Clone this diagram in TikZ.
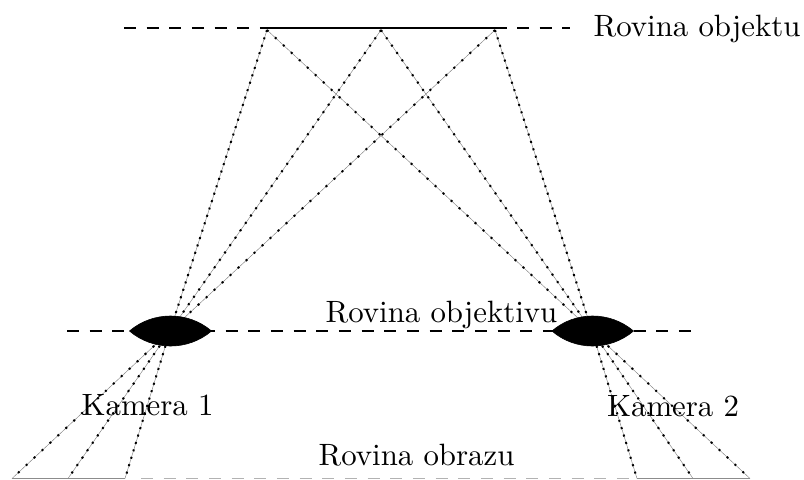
\documentclass[tikz,border=0pt]{standalone}
\tikzset{
  plane/.style={line width=0.42pt,dash pattern=on 3.9pt off 3.45pt},
  planesolid/.style={line width=0.42pt},
  lowplane/.style={line width=0.42pt,black!30,dash pattern=on 3.9pt off 3.45pt},
  lowsolid/.style={line width=0.42pt,black!45},
  rayline/.style={line width=0.14pt,black!50},
  lbl/.style={inner sep=0pt,anchor=base west},
  lensfill/.style={fill=black,draw=black,line width=0.2pt}
}
% a ray whose dots keep a fixed vertical spacing
\newcommand{\dotray}[2]{%
  \path (#1); \pgfgetlastxy{\rayax}{\rayay}%
  \path (#2); \pgfgetlastxy{\raybx}{\rayby}%
  \pgfmathsetmacro{\rayper}{2.4*veclen(\raybx-\rayax,\rayby-\rayay)/abs(\rayby-\rayay)-0.65}%
  \draw[rayline] (#1) -- (#2);
  \draw[line width=0.65pt,dash pattern=on 0.65pt off \rayper pt] (#1) -- (#2);
}
\begin{document}
\begin{tikzpicture}[x=0.3243pt,y=-0.3243pt]
\useasboundingbox (0,0) rectangle (804,479);
% coordinates
\coordinate (tl) at (124,28);
\coordinate (t1) at (267,30);
\coordinate (t2) at (381,30);
\coordinate (t3) at (495,30);
\coordinate (ts1) at (260,28);
\coordinate (ts2) at (507,28);
\coordinate (tq) at (517,28);
\coordinate (tr) at (570,28);
\coordinate (c1) at (170,331);
\coordinate (c2) at (592,331);
\coordinate (b1) at (12,478.5);
\coordinate (b2) at (68,478.5);
\coordinate (b3) at (125,478.5);
\coordinate (b3d) at (141,478.5);
\coordinate (b3e) at (629,478.5);
\coordinate (b4) at (637,478.5);
\coordinate (b5) at (693,478.5);
\coordinate (b6) at (750,478.5);
\coordinate (ml) at (67,331);
\coordinate (mr) at (692,331);
\coordinate (l1a) at (129.5,331);
\coordinate (l1b) at (211.5,331);
\coordinate (l2a) at (552,331);
\coordinate (l2b) at (633.5,331);
% rays
\foreach \a in {t1,t2,t3}{
  \dotray{\a}{c1}
  \dotray{\a}{c2}
}
\foreach \a in {b1,b2,b3}{ \dotray{c1}{\a} }
\foreach \a in {b4,b5,b6}{ \dotray{c2}{\a} }
% planes
\draw[plane] (tl) -- (ts1);
\draw[planesolid,line width=0.55pt] (ts1) -- (ts2);
\draw[plane] (tq) -- (tr);
\draw[plane] (ml) -- (mr);
\draw[lowsolid] (b1) -- (b3);
\draw[lowplane] (b3d) -- (b3e);
\draw[lowsolid] (b4) -- (b6);
% lenses
\draw[lensfill] (l1a) .. controls (153,311) and (188,311) .. (l1b) .. controls (188,351) and (153,351) .. cycle;
\draw[lensfill] (l2a) .. controls (575,311) and (610,311) .. (l2b) .. controls (610,351) and (575,351) .. cycle;
% labels
\node[lbl] (lo) at (593,36) {Rovina objektu};
\node[lbl] (lv) at (325,322) {Rovina objektivu};
\node[lbl] (k1) at (81,415.5) {Kamera 1};
\node[lbl] (k2) at (606.5,416) {Kamera 2};
\node[lbl] (lb) at (318,465) {Rovina obrazu};
\end{tikzpicture}
\end{document}
